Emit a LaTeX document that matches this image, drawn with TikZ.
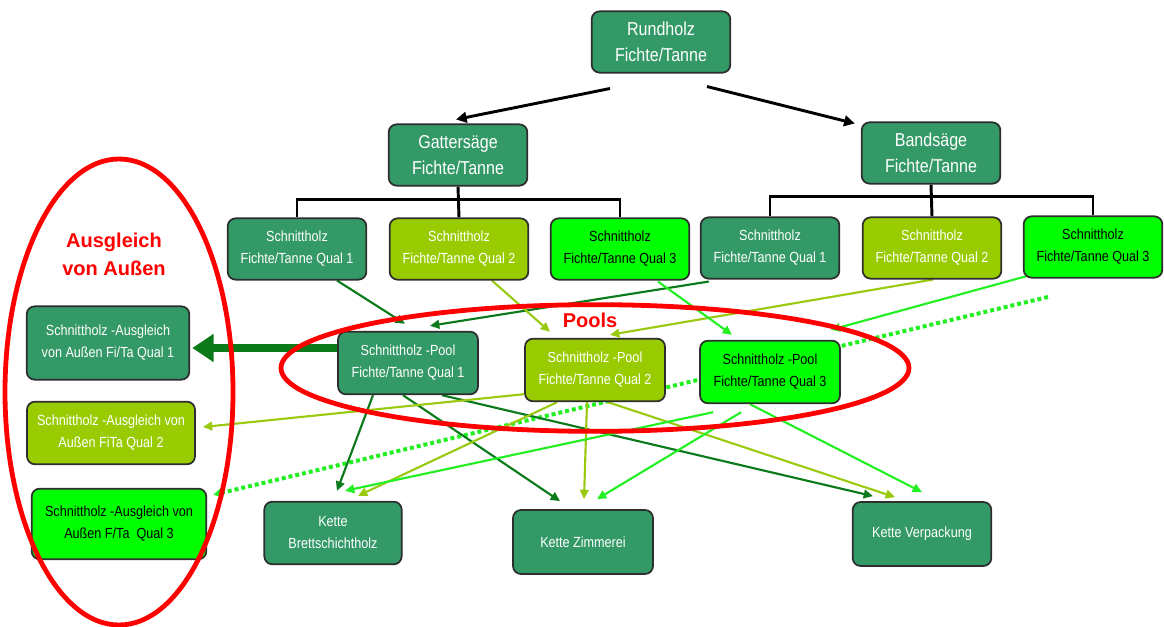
\documentclass[tikz,border=0pt]{standalone}
\usepackage{fontspec}
\setmainfont{Liberation Sans}[FakeStretch=0.86]
\newfontfamily\labelfont{Liberation Sans}
\usetikzlibrary{arrows.meta,calc,backgrounds}
\definecolor{qone}{HTML}{339966}
\definecolor{qtwo}{HTML}{99CC00}
\definecolor{qthree}{HTML}{00FF00}
\definecolor{lone}{HTML}{0A7A1A}
\definecolor{ltwo}{HTML}{9ACA10}
\definecolor{lthree}{HTML}{22F022}
\definecolor{frame}{HTML}{2E2E2E}
\begin{document}
\begin{tikzpicture}[x=0.75pt,y=-0.75pt,
  box/.style={draw=frame,line width=1.3pt,rounded corners=6pt,align=center,inner sep=1pt,text=white,font=\fontsize{11}{16.5}\selectfont},
  bigbox/.style={box,font=\fontsize{14}{19.5}\selectfont,minimum width=104pt,minimum height=46pt},
  qbox/.style={box,minimum width=104pt,minimum height=46pt},
  poolbox/.style={box,minimum width=105pt,minimum height=47pt},
  kbox/.style={box,minimum width=104pt,minimum height=48pt},
  fa/.style={fill=qone},
  fb/.style={fill=qtwo},
  fc/.style={fill=qthree,text=black},
  blk/.style={line width=2.2pt,black,-{Triangle[length=8pt,width=8pt]}},
  tree/.style={line width=2.2pt,black},
  cona/.style={line width=1.6pt,lone,-{Triangle[length=7pt,width=6.5pt]}},
  conb/.style={line width=1.6pt,ltwo,-{Triangle[length=7pt,width=6.5pt]}},
  conc/.style={line width=1.6pt,lthree,-{Triangle[length=7pt,width=6.5pt]}},
  redring/.style={draw=red,line width=3.6pt},
  redlabel/.style={text=red,font=\labelfont\bfseries\fontsize{15}{21}\selectfont,align=center}
]
\useasboundingbox (0,0) rectangle (1164,627);

% top
\node[bigbox,fa] (rund) at (661,42) {Rundholz\\Fichte/Tanne};
\node[bigbox,fa] (gatt) at (458,155) {Gatters\"age\\Fichte/Tanne};
\node[bigbox,fa] (band) at (931,153) {Bands\"age\\Fichte/Tanne};

% quality boxes
\node[qbox,fa] (gq1) at (297,249) {Schnittholz\\Fichte/Tanne Qual 1};
\node[qbox,fb] (gq2) at (459,249) {Schnittholz\\Fichte/Tanne Qual 2};
\node[qbox,fc] (gq3) at (620,249) {Schnittholz\\Fichte/Tanne Qual 3};
\node[qbox,fa] (bq1) at (770,248) {Schnittholz\\Fichte/Tanne Qual 1};
\node[qbox,fb] (bq2) at (932,248) {Schnittholz\\Fichte/Tanne Qual 2};
\node[qbox,fc] (bq3) at (1093,247) {Schnittholz\\Fichte/Tanne Qual 3};

% pools
\node[poolbox,fa] (pq1) at (408,363) {Schnittholz -Pool\\Fichte/Tanne Qual 1};
\node[poolbox,fb] (pq2) at (595,370) {Schnittholz -Pool\\Fichte/Tanne Qual 2};
\node[poolbox,fc] (pq3) at (770,372) {Schnittholz -Pool\\Fichte/Tanne Qual 3};

% Ausgleich
\node[box,fa,minimum width=122pt,minimum height=55pt] (aq1) at (108,343) {Schnittholz -Ausgleich\\von Au\ss en Fi/Ta Qual 1};
\node[box,fb,minimum width=126pt,minimum height=47pt] (aq2) at (111,433) {Schnittholz -Ausgleich von\\Au\ss en FiTa Qual 2};
\node[box,fc,minimum width=131pt,minimum height=53pt] (aq3) at (119,524) {Schnittholz -Ausgleich von\\Au\ss en F/Ta\ \ Qual 3};

% chains
\node[kbox,fa,minimum width=103pt,minimum height=47pt] (bsh) at (333,533) {Kette\\Brettschichtholz};
\node[kbox,fa,minimum width=105pt] (zim) at (583,542) {Kette Zimmerei};
\node[kbox,fa] (ver) at (922,534) {Kette Verpackung};

% labels
\node[redlabel] (auslbl) at (114,254) {Ausgleich\\von Au\ss en};
\node[redlabel] (poollbl) at (590,320) {Pools};

\coordinate (dotstart) at (1048,297);

\begin{pgfonlayer}{background}
% black arrows
\draw[blk] ($(rund.south)+(-51,15)$) -- ($(gatt.north)+(-2,-4)$);
\draw[blk] ($(rund.south)+(46,13)$) -- ($(band.north west)+(-6,2)$);
% trees
\draw[tree] (gatt.south) -- (gq2.north);
\draw[tree] (gq1.north) -- ++(0,-18) -| (gq3.north);
\draw[tree] (band.south) -- (bq2.north);
\draw[tree] (bq1.north) -- ++(0,-20) -| (bq3.north);

% dotted Q3 compensation
\draw[line width=3pt,lthree,dash pattern=on 3pt off 2.2pt,-{Triangle[length=7pt,width=7pt]}] (dotstart) -- ($(aq3.north east)+(6,7)$);

% Q1 connectors
\draw[cona] ($(gq1.south)+(40,0)$) -- ($(pq1.north)+(-3,-7)$);
\draw[cona] ($(bq1.south west)+(9,2)$) -- ($(pq1.north)+(22,-5)$);
\draw[line width=6pt,lone,-{Triangle[length=16pt,width=20pt]}] ($(pq1.west)+(0,-15)$) -- ($(aq1.east)+(2,5)$);
\draw[cona] ($(pq1.south)+(-35,0)$) -- ($(bsh.north)+(4,-10)$);
\draw[cona] ($(pq1.south)+(-5,0)$) -- ($(zim.north)+(-23,-8)$);
\draw[cona] ($(pq1.south)+(34,0)$) -- ($(ver.north)+(-49,-5)$);

% Q2 connectors
\draw[conb] ($(gq2.south)+(33,0)$) -- ($(pq2.north)+(-45,-6)$);
\draw[conb] ($(bq2.south)+(1,0)$) -- ($(pq2.north)+(15,-3)$);
\draw[conb] ($(pq2.south west)+(0,-8)$) -- ($(aq2.east)+(7,-6)$);
\draw[conb] ($(pq2.south)+(-38,0)$) -- ($(bsh.north)+(25,-5)$);
\draw[conb] ($(pq2.south)+(-8,0)$) -- ($(zim.north)+(1,-10)$);
\draw[conb] ($(pq2.south)+(13,0)$) -- ($(ver.north)+(-27,-4)$);

% Q3 connectors
\draw[conc] ($(gq3.south)+(38,1)$) -- ($(pq3.north)+(-38,-5)$);
\draw[conc] ($(bq3.south west)+(6,-3)$) -- ($(pq3.north east)+(-10,-10)$);
\draw[conc] ($(pq3.south west)+(14,8)$) -- ($(bsh.north)+(12,-10)$);
\draw[conc] ($(pq3.south west)+(42,8)$) -- ($(zim.north)+(14,-10)$);
\draw[conc] ($(pq3.south)+(-20,0)$) -- ($(ver.north)+(0,-9)$);
\end{pgfonlayer}

% red rings
\draw[redring] (119,392) ellipse [x radius=85.5pt, y radius=174.75pt];
\draw[redring] (595,368) ellipse [x radius=235.5pt, y radius=47.5pt];
\end{tikzpicture}
\end{document}
